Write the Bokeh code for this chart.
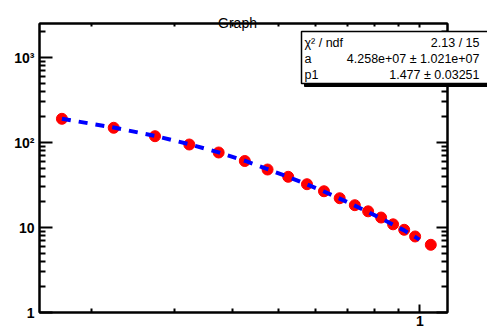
from bokeh.plotting import figure
from bokeh.models import Range1d, FixedTicker, LogAxis, ColumnDataSource
from bokeh.layouts import column
from bokeh.core.properties import value
from bokeh.embed import file_html
from bokeh.resources import INLINE

# ---- data ----
x_vals = [0.173, 0.223, 0.273, 0.323, 0.373, 0.424, 0.474, 0.5245, 0.575,
          0.625, 0.675, 0.727, 0.776, 0.827, 0.877, 0.926, 0.977, 1.055]
y_vals = [190, 149, 118.6, 94.7, 76.3, 60.6, 48.1, 39.5, 32.3,
          26.7, 22.1, 18.3, 15.5, 13.1, 10.9, 9.4, 7.84, 6.26]

fit_x = [0.173, 0.223, 0.273, 0.323, 0.373, 0.424, 0.474, 0.5245, 0.575,
         0.625, 0.675, 0.727, 0.776, 0.827, 0.877, 0.926, 0.977, 0.997]
fit_y = [190, 150, 119.5, 95.5, 76.5, 61.0, 48.6, 39.4, 32.2,
         26.5, 21.9, 18.1, 15.2, 12.8, 10.8, 9.25, 7.75, 7.2]

y_major = [1, 10, 100, 1000]
y_labels = ["1", "10", "10\u00b2", "10\u00b3"]
y_minor = [2, 3, 4, 5, 6, 7, 8, 9, 20, 30, 40, 50, 60, 70, 80, 90,
           200, 300, 400, 500, 600, 700, 800, 900, 2000]
x_major = [1]
x_labels = ["1"]
x_minor = [0.2, 0.3, 0.4, 0.5, 0.6, 0.7, 0.8, 0.9]

title_text = "Graph"
stats_names = ["\u03c7\u00b2 / ndf", "a", "p1"]
stats_values = ["2.13 / 15", "4.258e+07 \u00b1 1.021e+07", "1.477 \u00b1 0.03251"]

# ---- layout ----
W, H = 487, 331
FL, FT, FR, FB = 39, 23, 447, 312   # frame edges in page px

p = figure(width=W, height=H, x_axis_type="log", y_axis_type="log",
           x_range=Range1d(0.155, 1.145), y_range=Range1d(1, 2512),
           output_backend="svg", toolbar_location=None,
           min_border_left=FL, min_border_top=FT,
           min_border_right=W - FR, min_border_bottom=H - FB)
p.xgrid.visible = False
p.ygrid.visible = False
p.outline_line_color = "black"
p.outline_line_width = 2
p.background_fill_color = "white"
p.border_fill_color = "white"


def style(ax, major_in, minor_in, show_labels):
    ax.axis_line_color = "black"
    ax.axis_line_width = 2
    ax.major_tick_line_width = 2
    ax.minor_tick_line_width = 2
    ax.major_tick_in = major_in
    ax.major_tick_out = 0
    ax.minor_tick_in = minor_in
    ax.minor_tick_out = 0
    if show_labels:
        ax.major_label_text_font = "Liberation Sans"
        ax.major_label_text_font_style = "bold"
        ax.major_label_text_font_size = "14px"
        ax.major_label_text_color = "black"
    else:
        ax.major_label_text_font_size = "1px"
        ax.major_label_text_alpha = 0
        ax.major_label_standoff = 0


yax = p.yaxis[0]
yax.ticker = FixedTicker(ticks=y_major, minor_ticks=y_minor)
yax.major_label_overrides = {float(v): s for v, s in zip(y_major, y_labels)}
yax.major_label_standoff = 5
style(yax, 13, 6, True)

xax = p.xaxis[0]
xax.ticker = FixedTicker(ticks=x_major, minor_ticks=x_minor)
xax.major_label_overrides = {float(v): s for v, s in zip(x_major, x_labels)}
xax.major_label_standoff = 3
style(xax, 8, 4, True)

rax = LogAxis(ticker=FixedTicker(ticks=y_major, minor_ticks=y_minor))
style(rax, 11, 6, False)
p.add_layout(rax, "right")

tax = LogAxis(ticker=FixedTicker(ticks=x_major, minor_ticks=x_minor))
style(tax, 4, 3, False)
p.add_layout(tax, "above")

# ---- data marks ----
src = ColumnDataSource(dict(x=x_vals, y=y_vals))
p.scatter("x", "y", source=src, size=11, color="red", line_color="red")
fsrc = ColumnDataSource(dict(x=fit_x, y=fit_y))
p.line("x", "y", source=fsrc, line_color="blue", line_width=4, line_dash="9 8")

# ---- transparent overlay in page pixels for title and stats box ----
q = figure(width=W, height=H, x_range=Range1d(0, W), y_range=Range1d(H, 0),
           output_backend="svg", toolbar_location=None,
           x_axis_location=None, y_axis_location=None, min_border=0,
           background_fill_color=None, border_fill_color=None,
           outline_line_color=None)
q.xgrid.visible = False
q.ygrid.visible = False

q.text(x=[237], y=[22], text=[title_text], text_align="center",
       text_baseline="alphabetic", text_font=value("Liberation Sans"),
       text_font_size=value("14px"), text_color="black")

bl, br, bt, bb = 301, 490, 31, 83
q.quad(left=[bl + 3], right=[br + 3], top=[bt + 3], bottom=[bb + 3],
       fill_color="black", line_color="black", line_width=1)
q.quad(left=[bl], right=[br], top=[bt], bottom=[bb],
       fill_color="white", line_color="black", line_width=1.5)
row_base = [42.5, 58.5, 74.5]
q.text(x=[304] * 3, y=row_base, text=stats_names, text_align="left",
       text_baseline="alphabetic", text_font=value("Liberation Sans"),
       text_font_size=value("12.5px"), text_color="black")
q.text(x=[479] * 3, y=row_base, text=stats_values, text_align="right",
       text_baseline="alphabetic", text_font=value("Liberation Sans"),
       text_font_size=value("12.5px"), text_color="black")

inner = column(q, spacing=0)
inner.margin = (-H, 0, 0, 0)
layout = column(p, inner, spacing=0)
open("out.html", "w").write(file_html(layout, INLINE))
